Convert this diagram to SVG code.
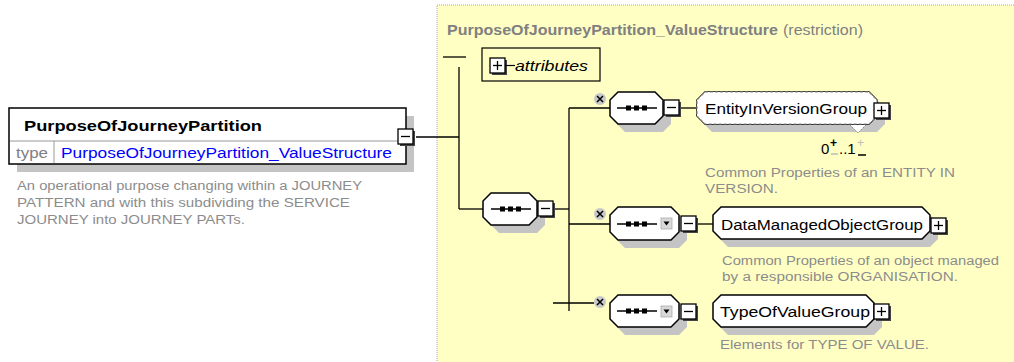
<svg xmlns="http://www.w3.org/2000/svg" width="1014" height="362" viewBox="0 0 1014 362">
<style>
.ln{stroke:#000;stroke-width:1.3;fill:none}
.oct{fill:#fff;stroke:#000;stroke-width:1.5}
.octd{fill:#fff;stroke:#888;stroke-width:1.2;stroke-dasharray:3 2}
.sh{fill:#c4c4c4}
.bx{fill:#fff;stroke:#000;stroke-width:1.3}
.lbl{font-family:"Liberation Sans",Arial,sans-serif;font-size:14px;fill:#000}
.desc{font-family:"Liberation Sans",Arial,sans-serif;font-size:12.5px;fill:#8c8c8c}
.dots rect{fill:#000}
</style>
<defs>
<g id="minus"><rect x="2" y="2" width="15" height="15" fill="#444"/><rect x="0" y="0" width="15" height="15" class="bx"/><line x1="3" y1="7.5" x2="12" y2="7.5" stroke="#000" stroke-width="1.3"/></g>
<g id="plus"><rect x="2" y="2" width="15" height="15" fill="#444"/><rect x="0" y="0" width="15" height="15" class="bx"/><line x1="3" y1="7.5" x2="12" y2="7.5" stroke="#000" stroke-width="1.3"/><line x1="7.5" y1="3" x2="7.5" y2="12" stroke="#000" stroke-width="1.3"/></g>
<g id="x"><circle cx="0" cy="0" r="6" fill="#c8c8c8"/><path d="M-3,-3 L3,3 M3,-3 L-3,3" stroke="#000" stroke-width="1.5"/></g>
<g id="dd"><rect x="0" y="0" width="11" height="11" fill="#d8d8d8" stroke="#aaa" stroke-width="0.8"/><path d="M2.5,3.5 H8.5 L5.5,7.5 Z" fill="#000"/></g>
<g id="seqsym"><line x1="0" y1="0" x2="40" y2="0" stroke="#000" stroke-width="1.3"/><rect x="9" y="-2.5" width="5" height="5"/><rect x="17" y="-2.5" width="5" height="5"/><rect x="25" y="-2.5" width="5" height="5"/></g>
</defs>

<!-- yellow complex type area -->
<rect x="437" y="5" width="620" height="400" fill="#ffffc4" stroke="#aaa" stroke-width="1" stroke-dasharray="1 1"/>
<text x="447" y="35" font-family="Liberation Sans,Arial,sans-serif" font-size="15" fill="#808080" font-weight="bold" textLength="331" lengthAdjust="spacingAndGlyphs">PurposeOfJourneyPartition_ValueStructure</text>
<text x="783" y="35" font-family="Liberation Sans,Arial,sans-serif" font-size="15" fill="#808080" textLength="80" lengthAdjust="spacingAndGlyphs">(restriction)</text>

<!-- connectors -->
<g id="connectors">
<line class="ln" x1="416" y1="137" x2="459" y2="137"/>
<line class="ln" x1="443" y1="57" x2="466" y2="57"/>
<line class="ln" x1="459" y1="67" x2="459" y2="209"/>
<line class="ln" x1="459" y1="209" x2="483" y2="209"/>
<line class="ln" x1="555" y1="209" x2="569" y2="209"/>
<line class="ln" x1="569" y1="108" x2="569" y2="311"/>
<line class="ln" x1="569" y1="108" x2="610" y2="108"/>
<line class="ln" x1="569" y1="224" x2="610" y2="224"/>
<line class="ln" x1="553" y1="303" x2="594" y2="303"/>
<line class="ln" x1="681" y1="108" x2="697" y2="108"/>
<line class="ln" x1="698" y1="224" x2="713" y2="224"/>
</g>

<!-- left element -->
<g id="PurposeOfJourneyPartition">
<rect x="17" y="116" width="397" height="56" class="sh"/>
<rect x="9" y="108" width="397" height="56" fill="#fff" stroke="#000" stroke-width="1.5"/>
<line x1="10" y1="141" x2="405" y2="141" stroke="#999" stroke-width="1"/>
<line x1="54" y1="141" x2="54" y2="163" stroke="#999" stroke-width="1"/>
<text x="24" y="131" font-family="Liberation Sans,Arial,sans-serif" font-size="15" font-weight="bold" textLength="238" lengthAdjust="spacingAndGlyphs">PurposeOfJourneyPartition</text>
<text x="16" y="158" font-family="Liberation Sans,Arial,sans-serif" font-size="14" fill="#808080" textLength="32" lengthAdjust="spacingAndGlyphs">type</text>
<text x="61" y="158" font-family="Liberation Sans,Arial,sans-serif" font-size="14" fill="#0000ff" textLength="331" lengthAdjust="spacingAndGlyphs">PurposeOfJourneyPartition_ValueStructure</text>
<use href="#minus" x="398" y="129"/>
<text class="desc" x="17" y="190" textLength="345" lengthAdjust="spacingAndGlyphs">An operational purpose changing within a JOURNEY</text>
<text class="desc" x="17" y="207" textLength="333" lengthAdjust="spacingAndGlyphs">PATTERN and with this subdividing the SERVICE</text>
<text class="desc" x="17" y="224" textLength="228" lengthAdjust="spacingAndGlyphs">JOURNEY into JOURNEY PARTs.</text>
</g>

<!-- attributes -->
<g id="attributes">
<rect x="482" y="48" width="118" height="33" fill="none" stroke="#000" stroke-width="1.2"/>
<use href="#plus" x="490" y="58"/>
<line x1="505" y1="65.5" x2="515" y2="65.5" stroke="#000" stroke-width="1.2"/>
<text x="515" y="71" font-family="Liberation Sans,Arial,sans-serif" font-size="14" font-style="italic" textLength="73" lengthAdjust="spacingAndGlyphs">attributes</text>
</g>

<!-- main sequence -->
<g id="seq-main">
<path class="sh" d="M499,201 H537 L545,209 V225 L537,233 H499 L491,225 V209 Z"/>
<path class="oct" d="M491,193 H529 L537,201 V217 L529,225 H491 L483,217 V201 Z"/>
<g class="dots"><use href="#seqsym" x="491" y="209"/></g>
<use href="#minus" x="538" y="201"/>
</g>

<!-- row 1 -->
<g id="seq-1">
<path class="sh" d="M625,100 H663 L671,108 V124 L663,132 H625 L617,124 V108 Z"/>
<path class="oct" d="M618,92 H655 L663,100 V116 L655,124 H618 L610,116 V100 Z"/>
<use href="#seqsym" x="617" y="108"/>
<use href="#x" x="600" y="99"/>
<use href="#minus" x="664" y="100"/>
</g>
<g id="EntityInVersionGroup">
<path class="sh" d="M712,100 H877 L885,108 V124 L877,132 H712 L704,124 V108 Z"/>
<path class="oct" d="M705,92 H869 L877,100 V116 L869,124 H705 L697,116 V100 Z" stroke="#fff"/>
<path class="octd" d="M705,92 H869 L877,100 V116 L869,124 H705 L697,116 V100 Z"/>
<path d="M850,125 L858,133 L866,125" fill="#fff" stroke="#888" stroke-width="1" stroke-dasharray="2 1"/>
<text class="lbl" x="705" y="114" textLength="162" lengthAdjust="spacingAndGlyphs">EntityInVersionGroup</text>
<use href="#plus" x="874" y="103"/>
<text x="821" y="154" font-family="Liberation Sans,Arial,sans-serif" font-size="15">0</text>
<text x="830" y="147" font-family="Liberation Sans,Arial,sans-serif" font-size="12" font-weight="bold">+</text>
<line x1="831" y1="154" x2="838" y2="154" stroke="#bbb" stroke-width="1.5"/>
<text x="839" y="154" font-family="Liberation Sans,Arial,sans-serif" font-size="15">..1</text>
<text x="857" y="147" font-family="Liberation Sans,Arial,sans-serif" font-size="12" fill="#bbb">+</text>
<line x1="858" y1="155" x2="866" y2="155" stroke="#000" stroke-width="1.5"/>
<text class="desc" x="705" y="177" textLength="250" lengthAdjust="spacingAndGlyphs">Common Properties of an ENTITY IN</text>
<text class="desc" x="705" y="193" textLength="73" lengthAdjust="spacingAndGlyphs">VERSION.</text>
</g>

<!-- row 2 -->
<g id="seq-2">
<path class="sh" d="M625,215 H679 L687,223 V240 L679,248 H625 L617,240 V223 Z"/>
<path class="oct" d="M618,207 H671 L679,215 V232 L671,240 H618 L610,232 V215 Z"/>
<use href="#seqsym" x="617" y="224"/>
<use href="#dd" x="661" y="218"/>
<use href="#x" x="600" y="214"/>
<use href="#minus" x="681" y="216"/>
</g>
<g id="DataManagedObjectGroup">
<path class="sh" d="M728,215 H930 L938,223 V239 L930,247 H728 L720,239 V223 Z"/>
<path class="oct" d="M721,207 H922 L930,215 V231 L922,239 H721 L713,231 V215 Z"/>
<text class="lbl" x="721" y="230" textLength="202" lengthAdjust="spacingAndGlyphs">DataManagedObjectGroup</text>
<use href="#plus" x="931" y="218"/>
<text class="desc" x="722" y="265" textLength="277" lengthAdjust="spacingAndGlyphs">Common Properties of an object managed</text>
<text class="desc" x="722" y="281" textLength="236" lengthAdjust="spacingAndGlyphs">by a responsible ORGANISATION.</text>
</g>

<!-- row 3 -->
<g id="seq-3">
<path class="sh" d="M625,303 H679 L687,311 V327 L679,335 H625 L617,327 V311 Z"/>
<path class="oct" d="M618,295 H671 L679,303 V319 L671,327 H618 L610,319 V303 Z"/>
<use href="#seqsym" x="617" y="311"/>
<use href="#dd" x="661" y="306"/>
<use href="#x" x="600" y="302"/>
<use href="#minus" x="681" y="304"/>
</g>
<g id="TypeOfValueGroup">
<path class="sh" d="M728,303 H874 L882,311 V327 L874,335 H728 L720,327 V311 Z"/>
<path class="oct" d="M721,295 H866 L874,303 V319 L866,327 H721 L713,319 V303 Z"/>
<text class="lbl" x="720" y="317" textLength="150" lengthAdjust="spacingAndGlyphs">TypeOfValueGroup</text>
<use href="#plus" x="874" y="304"/>
<text class="desc" x="720" y="349" textLength="209" lengthAdjust="spacingAndGlyphs">Elements for TYPE OF VALUE.</text>
</g>
</svg>
